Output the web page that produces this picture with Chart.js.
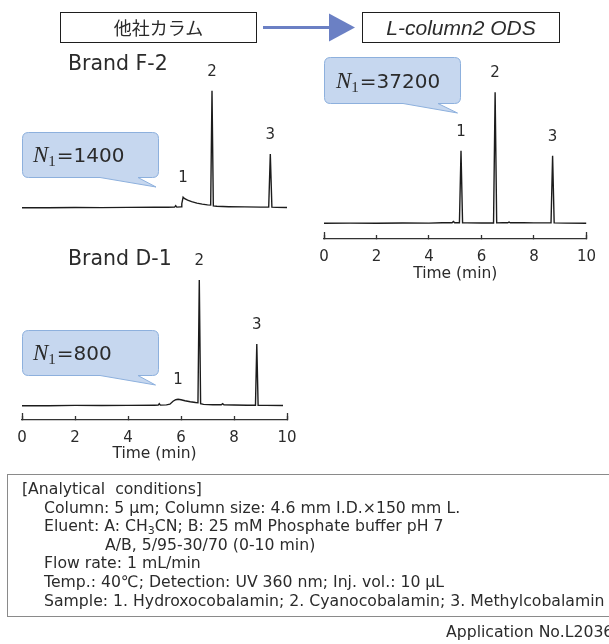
<!DOCTYPE html>
<html>
<head>
<meta charset="utf-8">
<script src="https://cdn.jsdelivr.net/npm/chart.js@4"></script>
<style>
  body { margin: 0; background: #fff; }
  #fig { position: relative; width: 609px; height: 644px; overflow: hidden; font-family: 'DejaVu Sans', sans-serif; color: #2b2b2b; }
  #fig canvas, #fig .abs { position: absolute; }
  .head { top: 12px; height: 31px; box-sizing: border-box; border: 1px solid #1e1e1e; text-align: center; line-height: 29px; }
  .brand { left: 68px; font-size: 20.5px; line-height: 24px; white-space: nowrap; }
  .nlab { font-size: 20px; line-height: 24px; white-space: nowrap; }
  .nlab i { font-family: 'Liberation Serif', serif; font-size: 23px; }
  .nlab sub { font-family: 'Liberation Serif', serif; font-size: 15px; line-height: 0; vertical-align: -0.25em; margin-right: 1px; }
  .cond { left: 7px; top: 474px; width: 640px; height: 143px; box-sizing: border-box; border: 1px solid #8a8a8a; }
  .lines { left: 22px; top: 480px; font-size: 15.7px; line-height: 18.6px; white-space: nowrap; }
  .lines div.in { padding-left: 22px; }
  .lines div.in2 { padding-left: 83px; }
  .lines sub { font-size: 11px; line-height: 0; vertical-align: -0.3em; }
</style>
</head>
<body>
<div id="fig">
  <canvas id="cvF2" width="310" height="175" style="left:0;top:55px"></canvas>
  <canvas id="cvD1" width="310" height="223" style="left:0;top:240px"></canvas>
  <canvas id="cvL2" width="307" height="243" style="left:302px;top:40px"></canvas>

  <svg id="deco" class="abs" width="609" height="644" style="left:0;top:0"></svg>

  <div class="abs head" style="left:60px;width:197px;font-family:'Noto Sans CJK JP';font-size:18px">他社カラム</div>
  <div class="abs head" style="left:362px;width:198px;font-family:'Liberation Sans';font-style:italic;font-size:21px">L-column2 ODS</div>

  <div class="abs brand" style="top:51px">Brand F-2</div>
  <div class="abs brand" style="top:246px">Brand D-1</div>

  <div class="abs nlab" style="left:33px;top:143px"><i>N</i><sub>1</sub>=1400</div>
  <div class="abs nlab" style="left:336px;top:69px"><i>N</i><sub>1</sub>=37200</div>
  <div class="abs nlab" style="left:33px;top:341px"><i>N</i><sub>1</sub>=800</div>

  <div class="abs cond"></div>
  <div class="abs lines">
    <div>[Analytical&nbsp; conditions]</div>
    <div class="in">Column: 5 μm; Column size: 4.6 mm I.D.×150 mm L.</div>
    <div class="in">Eluent: A: CH<sub>3</sub>CN; B: 25 mM Phosphate buffer pH 7</div>
    <div class="in2">A/B, 5/95-30/70 (0-10 min)</div>
    <div class="in">Flow rate: 1 mL/min</div>
    <div class="in">Temp.: 40℃; Detection: UV 360 nm; Inj. vol.: 10 μL</div>
    <div class="in">Sample: 1. Hydroxocobalamin; 2. Cyanocobalamin; 3. Methylcobalamin</div>
  </div>
  <div class="abs" style="left:446px;top:622px;font-size:15.7px;line-height:19px;white-space:nowrap">Application No.L2036</div>
</div>

<script>
// time axis (min) and peak names
const timeTicks = [0, 2, 4, 6, 8, 10];
const peakNames = ['1', '2', '3'];

// Brand F-2 chromatogram
const f2Time   = [0, 1.0, 2.0, 3.0, 4.0, 5.0, 5.5, 5.76, 5.80, 5.84, 6.00, 6.03, 6.08, 6.14, 6.25, 6.40, 6.60, 6.80, 7.00, 7.12, 7.17, 7.22, 7.35, 7.80, 8.40, 9.00, 9.31, 9.37, 9.43, 9.60, 10.0];
const f2Signal = [0, 0, 0.2, 0.1, 0.3, 0.4, 0.5, 0.6, 2.0, 0.6, 0.8, 4.0, 10.5, 9.0, 7.5, 6.0, 4.6, 3.6, 2.8, 2.6, 117, 1.8, 1.4, 1.0, 0.8, 0.6, 0.6, 53.7, 0.5, 0.3, 0.2];
const f2PeakTime   = [6.08, 7.17, 9.37];
const f2PeakHeight = [10.5, 117, 53.7];

// Brand D-1 chromatogram
const d1Time   = [0, 1.0, 2.0, 3.0, 4.0, 5.0, 5.14, 5.18, 5.22, 5.45, 5.58, 5.70, 5.80, 5.89, 6.00, 6.15, 6.35, 6.55, 6.64, 6.69, 6.74, 6.85, 7.20, 7.52, 7.57, 7.62, 8.00, 8.50, 8.81, 8.86, 8.91, 9.20, 9.85];
const d1Signal = [0, 0, 0.3, 0.2, 0.3, 0.5, 0.6, 2.0, 0.6, 0.8, 1.5, 4.5, 6.0, 6.4, 6.0, 5.0, 4.0, 3.2, 3.0, 125.7, 2.0, 1.3, 1.0, 1.0, 2.0, 0.9, 0.7, 0.5, 0.5, 61.7, 0.5, 0.3, 0.2];
const d1PeakTime   = [5.89, 6.69, 8.86];
const d1PeakHeight = [6.4, 125.7, 61.7];

// L-column2 ODS chromatogram
const l2Time   = [0, 1.0, 2.0, 3.0, 4.0, 4.5, 4.88, 4.93, 4.98, 5.16, 5.22, 5.28, 5.45, 6.0, 6.46, 6.52, 6.58, 6.80, 7.00, 7.05, 7.10, 7.60, 8.00, 8.65, 8.71, 8.77, 9.20, 10.0];
const l2Signal = [0, 0.2, 0.1, 0.3, 0.2, 0.5, 0.6, 1.8, 0.5, 0.6, 72.6, 0.5, 0.4, 0.3, 0.3, 131, 0.4, 0.6, 0.5, 1.2, 0.5, 0.6, 0.4, 0.4, 67.6, 0.4, 0.2, 0.1];
const l2PeakTime   = [5.22, 6.52, 8.71];
const l2PeakHeight = [72.6, 131, 67.6];

const ink = '#1c1c1c';
const textColor = '#2b2b2b';

function peakLabels(times, heights) {
    return {
        id: 'peakLabels',
        afterDatasetsDraw(chart) {
            const { ctx, scales: { x, y } } = chart;
            ctx.save();
            ctx.font = '15px "DejaVu Sans"';
            ctx.fillStyle = textColor;
            ctx.textAlign = 'center';
            ctx.textBaseline = 'middle';
            times.forEach((t, i) => {
                ctx.fillText(peakNames[i], x.getPixelForValue(t), y.getPixelForValue(heights[i]) - 19);
            });
            ctx.restore();
        }
    };
}

// end ticks of the time axis are longer than the inner ones
const endTicks = {
    id: 'endTicks',
    afterDraw(chart) {
        const x = chart.scales.x;
        if (!x.options.display) return;
        const ctx = chart.ctx;
        ctx.save();
        ctx.strokeStyle = '#333';
        ctx.lineWidth = 1.3;
        [x.min, x.max].forEach(v => {
            const px = Math.round(x.getPixelForValue(v)) + 0.5;
            ctx.beginPath();
            ctx.moveTo(px, x.top);
            ctx.lineTo(px, x.top - 7);
            ctx.stroke();
        });
        ctx.restore();
    }
};

function makeChart(id, time, signal, peakTime, peakHeight, opt) {
    return new Chart(document.getElementById(id), {
        type: 'line',
        data: {
            datasets: [{
                data: time.map((t, i) => ({ x: t, y: signal[i] })),
                borderColor: ink,
                borderWidth: 1.4,
                pointRadius: 0,
                tension: 0,
                fill: false
            }]
        },
        options: {
            responsive: false,
            animation: false,
            events: [],
            layout: { padding: opt.padding },
            plugins: { legend: { display: false }, tooltip: { enabled: false } },
            scales: {
                x: {
                    type: 'linear',
                    min: 0,
                    max: 10,
                    display: opt.axis,
                    afterBuildTicks: s => { s.ticks = timeTicks.map(v => ({ value: v })); },
                    afterFit: s => { s.height = opt.axisHeight; },
                    grid: { drawOnChartArea: false, drawTicks: true, tickLength: -4, tickColor: '#333', tickWidth: 1.3 },
                    border: { display: true, color: '#333', width: 1.3 },
                    ticks: { padding: 13, color: textColor, maxRotation: 0, autoSkip: false, font: { family: 'DejaVu Sans', size: 15 } },
                    title: { display: true, text: 'Time (min)', color: textColor, padding: 0, font: { family: 'DejaVu Sans', size: 15.5 } }
                },
                y: { type: 'linear', min: opt.yMin, max: opt.yMax, display: false }
            }
        },
        plugins: [peakLabels(peakTime, peakHeight), endTicks]
    });
}

makeChart('cvF2', f2Time, f2Signal, f2PeakTime, f2PeakHeight,
    { axis: false, axisHeight: 0, padding: { left: 22, right: 23, top: 0, bottom: 0 }, yMin: -22.3, yMax: 152.7 });
makeChart('cvD1', d1Time, d1Signal, d1PeakTime, d1PeakHeight,
    { axis: true, axisHeight: 43, padding: { left: 22, right: 23, top: 10, bottom: 0 }, yMin: -14.3, yMax: 155.7 });
makeChart('cvL2', l2Time, l2Signal, l2PeakTime, l2PeakHeight,
    { axis: true, axisHeight: 44, padding: { left: 22, right: 20, top: 10, bottom: 0 }, yMin: -15.7, yMax: 173.3 });

// speech bubbles and arrow
function bubble(x1, y1, x2, y2, bl, br, tx, ty) {
    const r = 6;
    return `M${x1 + r},${y1} H${x2 - r} Q${x2},${y1} ${x2},${y1 + r} V${y2 - r} Q${x2},${y2} ${x2 - r},${y2}` +
        ` H${br} L${tx},${ty} L${bl},${y2} H${x1 + r} Q${x1},${y2} ${x1},${y2 - r} V${y1 + r} Q${x1},${y1} ${x1 + r},${y1} Z`;
}
const deco = document.getElementById('deco');
deco.innerHTML =
    `<path d="${bubble(22.5, 132.5, 158.5, 177.5, 100, 138, 156, 187)}" fill="#c6d7ef" stroke="#8db0dd"/>` +
    `<path d="${bubble(324.5, 57.5, 460.5, 103.5, 403, 438, 457.5, 113)}" fill="#c6d7ef" stroke="#8db0dd"/>` +
    `<path d="${bubble(22.5, 330.5, 158.5, 375.5, 100, 138, 155.5, 385)}" fill="#c6d7ef" stroke="#8db0dd"/>` +
    `<line x1="263" y1="27.5" x2="332" y2="27.5" stroke="#6b80c4" stroke-width="3.2"/>` +
    `<path d="M329,13.5 L355,27.5 L329,41.5 Z" fill="#6b80c4"/>`;
</script>
</body>
</html>
